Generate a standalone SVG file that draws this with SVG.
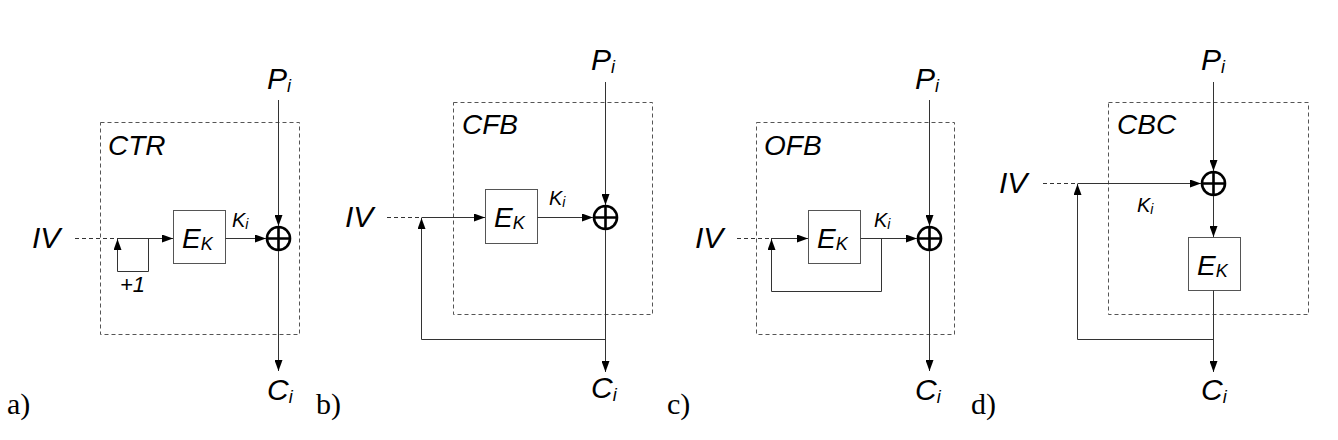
<svg xmlns="http://www.w3.org/2000/svg" width="1338" height="440" viewBox="0 0 1338 440">
<style>
.t{font-family:"Liberation Sans",Arial,sans-serif;font-style:italic;fill:#000}
.big{font-size:30px}
.mode{font-size:28px}
.e{font-size:28px}
.sub{font-size:18px}
.k{font-size:20px}
.inc{font-size:22px}
.ks{font-size:14px}
.lbl{font-family:"Liberation Serif","Times New Roman",serif;font-size:30px;fill:#000}
.frame{fill:none;stroke:#555;stroke-width:1;stroke-dasharray:4 3}
.blk{fill:#fff;stroke:#555;stroke-width:1}
.ln{fill:none;stroke:#333;stroke-width:1}
.dash{fill:none;stroke:#333;stroke-width:1;stroke-dasharray:4 3}
.xor{fill:none;stroke:#000;stroke-width:2.6}
</style>
<defs>
<marker id="ah" markerUnits="userSpaceOnUse" markerWidth="11" markerHeight="8" refX="11" refY="4" orient="auto">
<path d="M0,0 L11,4 L0,8 z" fill="#000"/>
</marker>
</defs>
<rect width="1338" height="440" fill="#fff"/>

<!-- Panel a: CTR -->
<g id="frame-ctr"><rect class="frame" x="100.5" y="122.5" width="199" height="212"/><text class="t mode" x="108" y="155">CTR</text></g>
<g id="iv-a"><text class="t big" x="32" y="248">IV</text></g>
<g id="ek-a"><rect class="blk" x="173.5" y="210.5" width="52" height="53"/><text class="t e" x="182" y="248">E<tspan class="sub" dy="2">K</tspan></text></g>
<g id="inc-a"><text class="t inc" x="120" y="292">+1</text></g>
<g id="ki-a"><text class="t k" x="232" y="227">K<tspan class="ks" dy="2">i</tspan></text></g>
<g id="xor-a"><circle class="xor" cx="278.5" cy="238.5" r="11.5"/><path class="xor" d="M267,238.5 H290 M278.5,227 V250"/></g>
<g id="pi-a"><text class="t big" x="267" y="89">P<tspan class="sub" dy="3">i</tspan></text></g>
<g id="ci-a"><text class="t big" x="267" y="400">C<tspan class="sub" dy="3">i</tspan></text></g>
<g id="label-a"><text class="lbl" x="7" y="414">a)</text></g>

<!-- Panel b: CFB -->
<g id="frame-cfb"><rect class="frame" x="453.5" y="102.5" width="199" height="212"/><text class="t mode" x="462" y="134">CFB</text></g>
<g id="iv-b"><text class="t big" x="345" y="227">IV</text></g>
<g id="ek-b"><rect class="blk" x="485.5" y="189.5" width="52" height="54"/><text class="t e" x="494" y="227">E<tspan class="sub" dy="2">K</tspan></text></g>
<g id="ki-b"><text class="t k" x="549" y="205">K<tspan class="ks" dy="2">i</tspan></text></g>
<g id="xor-b"><circle class="xor" cx="605.5" cy="217.5" r="11.5"/><path class="xor" d="M594,217.5 H617 M605.5,206 V229"/></g>
<g id="pi-b"><text class="t big" x="591" y="70">P<tspan class="sub" dy="3">i</tspan></text></g>
<g id="ci-b"><text class="t big" x="591" y="398">C<tspan class="sub" dy="3">i</tspan></text></g>
<g id="label-b"><text class="lbl" x="316" y="414">b)</text></g>

<!-- Panel c: OFB -->
<g id="frame-ofb"><rect class="frame" x="756.5" y="122.5" width="198" height="212"/><text class="t mode" x="764" y="155">OFB</text></g>
<g id="iv-c"><text class="t big" x="695" y="248">IV</text></g>
<g id="ek-c"><rect class="blk" x="808.5" y="210.5" width="52" height="53"/><text class="t e" x="817" y="248">E<tspan class="sub" dy="2">K</tspan></text></g>
<g id="ki-c"><text class="t k" x="874" y="227">K<tspan class="ks" dy="2">i</tspan></text></g>
<g id="xor-c"><circle class="xor" cx="929.5" cy="238.5" r="11.5"/><path class="xor" d="M918,238.5 H941 M929.5,227 V250"/></g>
<g id="pi-c"><text class="t big" x="915" y="89">P<tspan class="sub" dy="3">i</tspan></text></g>
<g id="ci-c"><text class="t big" x="915" y="400">C<tspan class="sub" dy="3">i</tspan></text></g>
<g id="label-c"><text class="lbl" x="667" y="414">c)</text></g>

<!-- Panel d: CBC -->
<g id="frame-cbc"><rect class="frame" x="1108.5" y="102.5" width="200" height="212"/><text class="t mode" x="1117" y="134">CBC</text></g>
<g id="iv-d"><text class="t big" x="999" y="193">IV</text></g>
<g id="ki-d"><text class="t k" x="1137" y="212">K<tspan class="ks" dy="2">i</tspan></text></g>
<g id="xor-d"><circle class="xor" cx="1213.5" cy="183.5" r="11.5"/><path class="xor" d="M1202,183.5 H1225 M1213.5,172 V195"/></g>
<g id="ek-d"><rect class="blk" x="1188.5" y="237.5" width="52" height="53"/><text class="t e" x="1197" y="275">E<tspan class="sub" dy="2">K</tspan></text></g>
<g id="pi-d"><text class="t big" x="1201" y="70">P<tspan class="sub" dy="3">i</tspan></text></g>
<g id="ci-d"><text class="t big" x="1201" y="400">C<tspan class="sub" dy="3">i</tspan></text></g>
<g id="label-d"><text class="lbl" x="971" y="414">d)</text></g>

<g id="connectors">
<!-- a -->
<path class="dash" d="M75,238.5 H117"/>
<path class="ln" d="M117,238.5 H173" marker-end="url(#ah)"/>
<path class="ln" d="M148.5,238.5 V271.5 H117.5 V239" marker-end="url(#ah)"/>
<path class="ln" d="M225.5,238.5 H266" marker-end="url(#ah)"/>
<path class="ln" d="M278.5,100 V226" marker-end="url(#ah)"/>
<path class="ln" d="M278.5,251 V371" marker-end="url(#ah)"/>
<!-- b -->
<path class="dash" d="M387,217.5 H421.5"/>
<path class="ln" d="M421.5,217.5 H485" marker-end="url(#ah)"/>
<path class="ln" d="M537.5,217.5 H593" marker-end="url(#ah)"/>
<path class="ln" d="M605.5,82 V205" marker-end="url(#ah)"/>
<path class="ln" d="M605.5,230 V372" marker-end="url(#ah)"/>
<path class="ln" d="M605.5,339.5 H421.5 V218" marker-end="url(#ah)"/>
<!-- c -->
<path class="dash" d="M737,238.5 H771"/>
<path class="ln" d="M771,238.5 H808" marker-end="url(#ah)"/>
<path class="ln" d="M860.5,238.5 H917" marker-end="url(#ah)"/>
<path class="ln" d="M881.5,238.5 V291.5 H771.5 V239" marker-end="url(#ah)"/>
<path class="ln" d="M929.5,100 V226" marker-end="url(#ah)"/>
<path class="ln" d="M929.5,251 V371" marker-end="url(#ah)"/>
<!-- d -->
<path class="dash" d="M1043,183.5 H1077.5"/>
<path class="ln" d="M1077.5,183.5 H1201" marker-end="url(#ah)"/>
<path class="ln" d="M1213.5,82 V171" marker-end="url(#ah)"/>
<path class="ln" d="M1213.5,196 V237" marker-end="url(#ah)"/>
<path class="ln" d="M1213.5,290.5 V372" marker-end="url(#ah)"/>
<path class="ln" d="M1213.5,339.5 H1077.5 V184" marker-end="url(#ah)"/>
</g>
</svg>
